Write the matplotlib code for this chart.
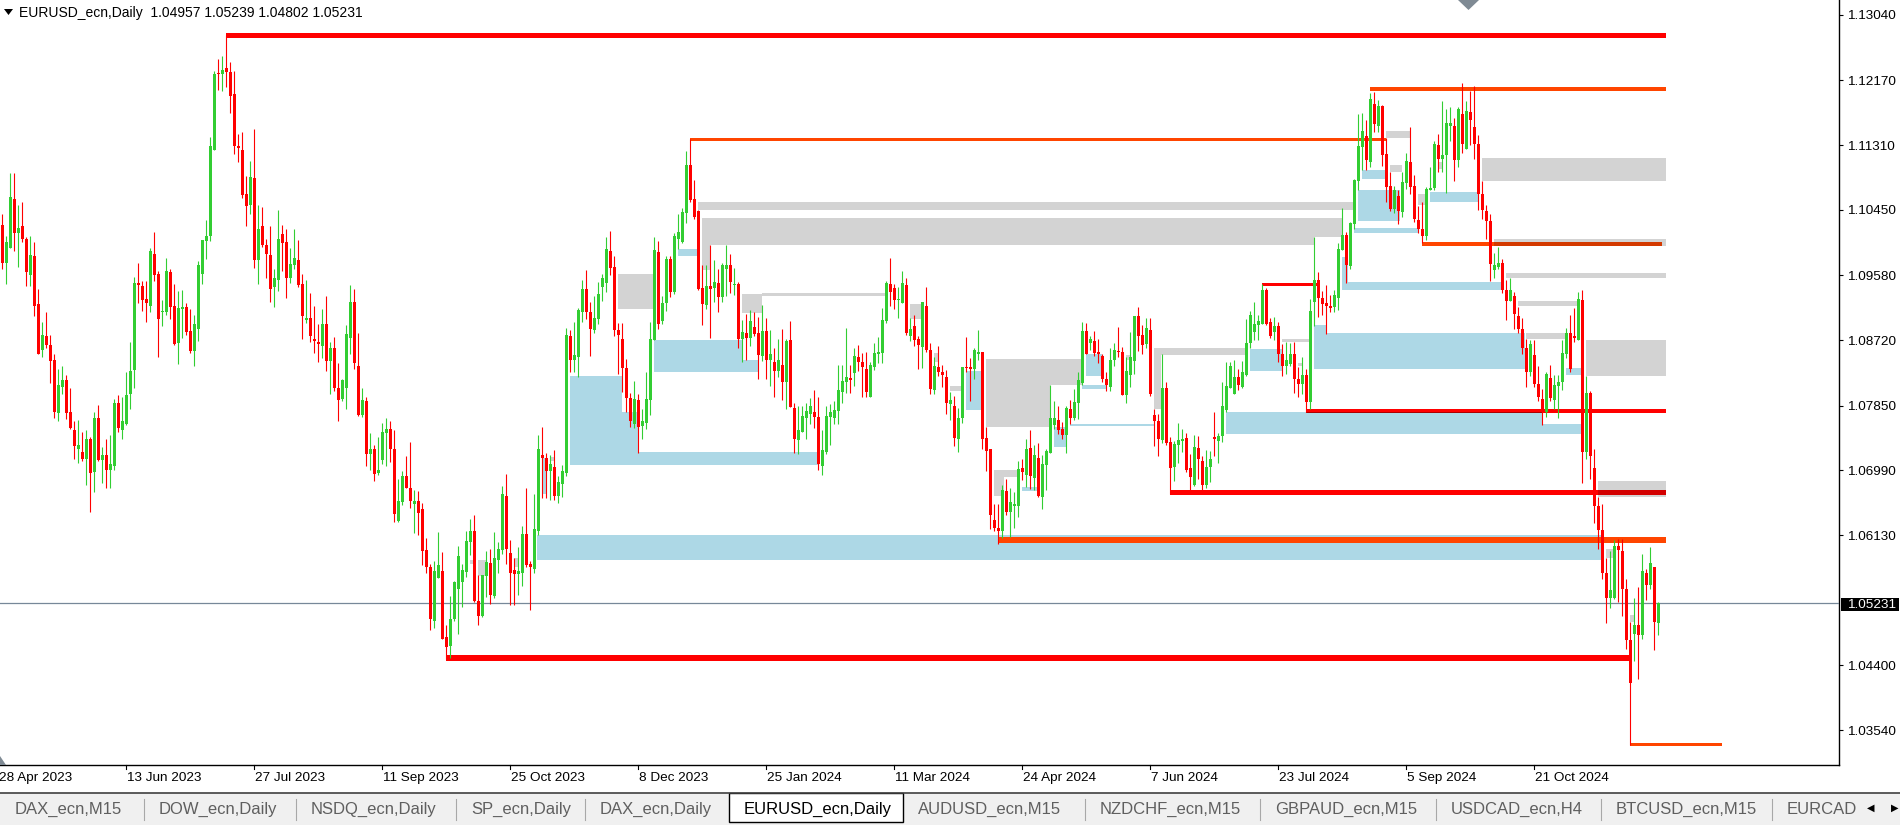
import numpy as np
import pandas as pd
import matplotlib
matplotlib.use("Agg")
import matplotlib.pyplot as plt
from matplotlib.patches import Rectangle, Polygon
from matplotlib import colors as mcolors

plt.rcParams['font.family'] = ['Liberation Sans', 'DejaVu Sans']

# ---- daily bars, 1 May 2023 .. 3 Dec 2024 ----
opens = [
    1.1025, 1.0975, 1.0994, 1.1059, 1.1014, 1.1023, 1.1006, 1.0959, 1.0984, 1.0920,
    1.0859, 1.0878, 1.0866, 1.0845, 1.0775, 1.0810, 1.0819, 1.0776, 1.0752, 1.0727,
    1.0723, 1.0714, 1.0741, 1.0697, 1.0769, 1.0713, 1.0719, 1.0700, 1.0705, 1.0789,
    1.0752, 1.0761, 1.0800, 1.0832, 1.0948, 1.0944, 1.0926, 1.0918, 1.0986, 1.0960,
    1.0909, 1.0909, 1.0962, 1.0917, 1.0868, 1.0914, 1.0916, 1.0884, 1.0858, 1.0887,
    1.0960, 1.1004, 1.1010, 1.1125, 1.1226, 1.1226, 1.1233, 1.1228, 1.1199, 1.1130,
    1.1125, 1.1066, 1.1051, 1.1087, 1.0979, 1.1023, 1.0999, 1.0985, 1.0942, 1.0952,
    1.1013, 1.1002, 1.0955, 1.0972, 1.0979, 1.0947, 1.0899, 1.0901, 1.0873, 1.0870,
    1.0864, 1.0894, 1.0844, 1.0862, 1.0809, 1.0794, 1.0809, 1.0875, 1.0922, 1.0837,
    1.0773, 1.0791, 1.0721, 1.0727, 1.0695, 1.0713, 1.0749, 1.0754, 1.0728, 1.0632,
    1.0657, 1.0691, 1.0676, 1.0654, 1.0658, 1.0647, 1.0593, 1.0571, 1.0499, 1.0556,
    1.0565, 1.0478, 1.0466, 1.0502, 1.0542, 1.0550, 1.0564, 1.0604, 1.0618, 1.0526,
    1.0506, 1.0558, 1.0576, 1.0532, 1.0580, 1.0593, 1.0665, 1.0589, 1.0566, 1.0561,
    1.0563, 1.0614, 1.0574, 1.0568, 1.0618, 1.0720, 1.0715, 1.0698, 1.0703, 1.0665,
    1.0681, 1.0696, 1.0878, 1.0846, 1.0849, 1.0909, 1.0940, 1.0909, 1.0885, 1.0900,
    1.0943, 1.0948, 1.0990, 1.0969, 1.0885, 1.0874, 1.0835, 1.0795, 1.0761, 1.0792,
    1.0758, 1.0762, 1.0793, 1.0872, 1.0989, 1.0897, 1.0921, 1.0980, 1.0936, 1.1007,
    1.1002, 1.1041, 1.1105, 1.1060, 1.1044, 1.0941, 1.0919, 1.0944, 1.0941, 1.0948,
    1.0929, 1.0966, 1.0972, 1.0945, 1.0947, 1.0873, 1.0882, 1.0875, 1.0889, 1.0882,
    1.0851, 1.0884, 1.0845, 1.0843, 1.0831, 1.0839, 1.0817, 1.0872, 1.0782, 1.0739,
    1.0750, 1.0769, 1.0774, 1.0777, 1.0770, 1.0705, 1.0724, 1.0770, 1.0769, 1.0778,
    1.0803, 1.0817, 1.0822, 1.0828, 1.0849, 1.0843, 1.0834, 1.0796, 1.0836, 1.0853,
    1.0855, 1.0897, 1.0947, 1.0941, 1.0925, 1.0921, 1.0945, 1.0878, 1.0891, 1.0873,
    1.0863, 1.0918, 1.0859, 1.0806, 1.0836, 1.0830, 1.0823, 1.0787, 1.0785, 1.0741,
    1.0768, 1.0836, 1.0836, 1.0834, 1.0853, 1.0856, 1.0742, 1.0727, 1.0633, 1.0623,
    1.0618, 1.0672, 1.0643, 1.0651, 1.0651, 1.0702, 1.0693, 1.0729, 1.0689, 1.0716,
    1.0664, 1.0706, 1.0722, 1.0759, 1.0766, 1.0754, 1.0746, 1.0781, 1.0768, 1.0789,
    1.0815, 1.0884, 1.0868, 1.0871, 1.0856, 1.0851, 1.0821, 1.0810, 1.0846, 1.0858,
    1.0856, 1.0799, 1.0826, 1.0844, 1.0904, 1.0879, 1.0867, 1.0885, 1.0772, 1.0765,
    1.0739, 1.0808, 1.0737, 1.0703, 1.0733, 1.0738, 1.0742, 1.0702, 1.0680, 1.0729,
    1.0711, 1.0679, 1.0703, 1.0743, 1.0738, 1.0744, 1.0779, 1.0808, 1.0801, 1.0823,
    1.0810, 1.0826, 1.0868, 1.0883, 1.0892, 1.0893, 1.0938, 1.0896, 1.0883, 1.0891,
    1.0854, 1.0838, 1.0840, 1.0853, 1.0820, 1.0814, 1.0826, 1.0790, 1.0923, 1.0952,
    1.0928, 1.0921, 1.0918, 1.0916, 1.0928, 1.0992, 1.1012, 1.0971, 1.1026, 1.1084,
    1.1129, 1.1143, 1.1109, 1.1186, 1.1157, 1.1183, 1.1119, 1.1077, 1.1046, 1.1063,
    1.1042, 1.1081, 1.1109, 1.1077, 1.1032, 1.1020, 1.1010, 1.1072, 1.1074, 1.1131,
    1.1112, 1.1118, 1.1156, 1.1157, 1.1111, 1.1172, 1.1126, 1.1175, 1.1155, 1.1133,
    1.1066, 1.1044, 1.1030, 1.0965, 1.0969, 1.0974, 1.0938, 1.0924, 1.0931, 1.0904,
    1.0887, 1.0861, 1.0829, 1.0852, 1.0814, 1.0794, 1.0776, 1.0822, 1.0792, 1.0811,
    1.0817, 1.0854, 1.0882, 1.0878, 1.0872, 1.0925, 1.0723, 1.0802, 1.0702, 1.0651,
    1.0620, 1.0562, 1.0530, 1.0530, 1.0598, 1.0592, 1.0541, 1.0473, 1.0481, 1.0493,
    1.0480, 1.0562, 1.0547, 1.0571, 1.04957,
]
highs = [
    1.1039, 1.1011, 1.1094, 1.1094, 1.1051, 1.1056, 1.1009, 1.1010, 1.1002, 1.0940,
    1.0896, 1.0909, 1.0879, 1.0854, 1.0834, 1.0837, 1.0826, 1.0808, 1.0764, 1.0766,
    1.0750, 1.0753, 1.0743, 1.0776, 1.0786, 1.0730, 1.0740, 1.0746, 1.0794, 1.0799,
    1.0796, 1.0830, 1.0870, 1.0956, 1.0975, 1.0951, 1.0951, 1.0994, 1.1015, 1.0964,
    1.0925, 1.0981, 1.0967, 1.0946, 1.0937, 1.0938, 1.0921, 1.0913, 1.0905, 1.0977,
    1.1005, 1.1031, 1.1142, 1.1229, 1.1245, 1.1250, 1.1277, 1.1241, 1.1230, 1.1146,
    1.1149, 1.1090, 1.1110, 1.1152, 1.1051, 1.1049, 1.1006, 1.1023, 1.0967, 1.1045,
    1.1025, 1.1020, 1.0995, 1.1020, 1.1005, 1.0960, 1.0952, 1.0934, 1.0918, 1.0893,
    1.0913, 1.0930, 1.0870, 1.0876, 1.0842, 1.0821, 1.0892, 1.0945, 1.0940, 1.0881,
    1.0808, 1.0797, 1.0749, 1.0733, 1.0743, 1.0762, 1.0768, 1.0764, 1.0752, 1.0687,
    1.0698, 1.0718, 1.0736, 1.0673, 1.0671, 1.0656, 1.0609, 1.0575, 1.0578, 1.0617,
    1.0591, 1.0493, 1.0532, 1.0552, 1.0599, 1.0575, 1.0619, 1.0634, 1.0639, 1.0560,
    1.0560, 1.0592, 1.0594, 1.0617, 1.0604, 1.0678, 1.0694, 1.0606, 1.0582, 1.0597,
    1.0625, 1.0676, 1.0579, 1.0667, 1.0746, 1.0756, 1.0722, 1.0720, 1.0726, 1.0692,
    1.0706, 1.0888, 1.0886, 1.0896, 1.0915, 1.0952, 1.0965, 1.0922, 1.0930, 1.0949,
    1.0960, 1.1009, 1.1017, 1.0984, 1.0895, 1.0895, 1.0847, 1.0802, 1.0818, 1.0801,
    1.0780, 1.0829, 1.0896, 1.1009, 1.1004, 1.0931, 1.0984, 1.0984, 1.1014, 1.1040,
    1.1047, 1.1123, 1.1139, 1.1085, 1.1045, 1.0972, 1.0972, 1.0998, 1.0978, 1.0966,
    1.0975, 1.0998, 1.0986, 1.0968, 1.0949, 1.0899, 1.0907, 1.0912, 1.0910, 1.0903,
    1.0919, 1.0901, 1.0886, 1.0862, 1.0874, 1.0887, 1.0874, 1.0897, 1.0789, 1.0785,
    1.0785, 1.0789, 1.0795, 1.0806, 1.0796, 1.0752, 1.0785, 1.0787, 1.0791, 1.0839,
    1.0839, 1.0888, 1.0839, 1.0861, 1.0866, 1.0855, 1.0856, 1.0843, 1.0868, 1.0876,
    1.0915, 1.0950, 1.0981, 1.0947, 1.0943, 1.0964, 1.0955, 1.0901, 1.0905, 1.0877,
    1.0923, 1.0943, 1.0868, 1.0849, 1.0864, 1.0839, 1.0832, 1.0803, 1.0798, 1.0782,
    1.0836, 1.0876, 1.0848, 1.0862, 1.0885, 1.0856, 1.0757, 1.0728, 1.0654, 1.0654,
    1.0679, 1.0688, 1.0676, 1.0670, 1.0711, 1.0714, 1.0740, 1.0752, 1.0732, 1.0735,
    1.0720, 1.0728, 1.0812, 1.0791, 1.0785, 1.0763, 1.0785, 1.0793, 1.0807, 1.0829,
    1.0896, 1.0895, 1.0878, 1.0884, 1.0874, 1.0854, 1.0830, 1.0862, 1.0868, 1.0889,
    1.0863, 1.0849, 1.0883, 1.0904, 1.0916, 1.0892, 1.0902, 1.0902, 1.0781, 1.0774,
    1.0853, 1.0816, 1.0743, 1.0738, 1.0762, 1.0754, 1.0749, 1.0721, 1.0746, 1.0744,
    1.0718, 1.0726, 1.0725, 1.0777, 1.0748, 1.0816, 1.0843, 1.0843, 1.0845, 1.0833,
    1.0844, 1.0900, 1.0911, 1.0923, 1.0905, 1.0947, 1.0941, 1.0902, 1.0903, 1.0896,
    1.0867, 1.0869, 1.0868, 1.0869, 1.0836, 1.0850, 1.0834, 1.0927, 1.1009, 1.0962,
    1.0937, 1.0945, 1.0932, 1.0939, 1.1001, 1.1047, 1.1016, 1.1029, 1.1086, 1.1173,
    1.1174, 1.1164, 1.1200, 1.1202, 1.1191, 1.1185, 1.1140, 1.1095, 1.1077, 1.1072,
    1.1096, 1.1120, 1.1155, 1.1091, 1.1050, 1.1055, 1.1076, 1.1102, 1.1137, 1.1146,
    1.1190, 1.1179, 1.1182, 1.1167, 1.1182, 1.1213, 1.1190, 1.1203, 1.1209, 1.1144,
    1.1083, 1.1051, 1.1039, 1.0988, 1.0996, 1.0980, 1.0952, 1.0954, 1.0936, 1.0916,
    1.0902, 1.0874, 1.0872, 1.0872, 1.0838, 1.0807, 1.0830, 1.0839, 1.0826, 1.0826,
    1.0872, 1.0888, 1.0905, 1.0915, 1.0936, 1.0938, 1.0824, 1.0805, 1.0727, 1.0664,
    1.0654, 1.0583, 1.0592, 1.0607, 1.0608, 1.0608, 1.0554, 1.0498, 1.0529, 1.0544,
    1.0588, 1.0568, 1.0597, 1.0571, 1.05239,
]
lows = [
    1.0967, 1.0946, 1.0994, 1.0990, 1.0969, 1.1002, 1.0944, 1.0944, 1.0904, 1.0853,
    1.0850, 1.0861, 1.0815, 1.0768, 1.0765, 1.0801, 1.0767, 1.0754, 1.0714, 1.0709,
    1.0712, 1.0680, 1.0644, 1.0670, 1.0712, 1.0682, 1.0675, 1.0675, 1.0700, 1.0750,
    1.0740, 1.0759, 1.0780, 1.0808, 1.0921, 1.0911, 1.0896, 1.0909, 1.0951, 1.0849,
    1.0891, 1.0905, 1.0900, 1.0865, 1.0840, 1.0875, 1.0879, 1.0855, 1.0838, 1.0871,
    1.0947, 1.0980, 1.1004, 1.1125, 1.1204, 1.1203, 1.1208, 1.1174, 1.1119, 1.1109,
    1.1061, 1.1023, 1.1040, 1.0968, 1.0947, 1.0996, 1.0955, 1.0923, 1.0916, 1.0937,
    1.0964, 1.0928, 1.0948, 1.0967, 1.0942, 1.0874, 1.0895, 1.0870, 1.0855, 1.0843,
    1.0848, 1.0831, 1.0800, 1.0805, 1.0765, 1.0791, 1.0781, 1.0854, 1.0834, 1.0771,
    1.0770, 1.0705, 1.0700, 1.0685, 1.0693, 1.0707, 1.0705, 1.0710, 1.0630, 1.0630,
    1.0653, 1.0675, 1.0649, 1.0616, 1.0613, 1.0573, 1.0562, 1.0487, 1.0490, 1.0556,
    1.0475, 1.0448, 1.0450, 1.0499, 1.0481, 1.0517, 1.0557, 1.0587, 1.0524, 1.0493,
    1.0504, 1.0531, 1.0522, 1.0529, 1.0563, 1.0588, 1.0575, 1.0520, 1.0520, 1.0533,
    1.0545, 1.0570, 1.0514, 1.0563, 1.0613, 1.0662, 1.0662, 1.0659, 1.0659, 1.0655,
    1.0664, 1.0692, 1.0830, 1.0829, 1.0823, 1.0896, 1.0900, 1.0851, 1.0881, 1.0893,
    1.0924, 1.0936, 1.0958, 1.0878, 1.0827, 1.0803, 1.0777, 1.0757, 1.0755, 1.0722,
    1.0741, 1.0754, 1.0772, 1.0872, 1.0887, 1.0893, 1.0911, 1.0929, 1.0933, 1.0993,
    1.1001, 1.1028, 1.1055, 1.1033, 1.0938, 1.0892, 1.0914, 1.0875, 1.0922, 1.0909,
    1.0922, 1.0930, 1.0935, 1.0932, 1.0861, 1.0843, 1.0846, 1.0864, 1.0877, 1.0821,
    1.0844, 1.0821, 1.0811, 1.0796, 1.0823, 1.0792, 1.0780, 1.0783, 1.0722, 1.0721,
    1.0750, 1.0741, 1.0761, 1.0755, 1.0700, 1.0693, 1.0721, 1.0732, 1.0761, 1.0761,
    1.0788, 1.0802, 1.0802, 1.0811, 1.0831, 1.0796, 1.0796, 1.0796, 1.0832, 1.0841,
    1.0841, 1.0895, 1.0917, 1.0913, 1.0902, 1.0921, 1.0879, 1.0871, 1.0864, 1.0834,
    1.0835, 1.0856, 1.0801, 1.0801, 1.0824, 1.0810, 1.0774, 1.0766, 1.0731, 1.0724,
    1.0762, 1.0830, 1.0791, 1.0820, 1.0845, 1.0727, 1.0698, 1.0621, 1.0618, 1.0601,
    1.0609, 1.0640, 1.0610, 1.0623, 1.0637, 1.0686, 1.0677, 1.0674, 1.0673, 1.0663,
    1.0648, 1.0673, 1.0722, 1.0754, 1.0747, 1.0740, 1.0722, 1.0761, 1.0766, 1.0767,
    1.0812, 1.0854, 1.0859, 1.0851, 1.0841, 1.0817, 1.0804, 1.0805, 1.0837, 1.0850,
    1.0799, 1.0788, 1.0810, 1.0827, 1.0857, 1.0854, 1.0861, 1.0798, 1.0731, 1.0718,
    1.0735, 1.0732, 1.0668, 1.0685, 1.0709, 1.0723, 1.0697, 1.0670, 1.0678, 1.0688,
    1.0671, 1.0676, 1.0684, 1.0718, 1.0709, 1.0736, 1.0777, 1.0808, 1.0801, 1.0806,
    1.0809, 1.0825, 1.0861, 1.0872, 1.0872, 1.0893, 1.0892, 1.0875, 1.0872, 1.0843,
    1.0824, 1.0827, 1.0838, 1.0802, 1.0797, 1.0801, 1.0776, 1.0781, 1.0891, 1.0903,
    1.0905, 1.0880, 1.0909, 1.0909, 1.0912, 1.0992, 1.0948, 1.0967, 1.1020, 1.1071,
    1.1098, 1.1098, 1.1102, 1.1149, 1.1149, 1.1103, 1.1055, 1.1043, 1.1041, 1.1026,
    1.1035, 1.1073, 1.1066, 1.1029, 1.1014, 1.1001, 1.1005, 1.1072, 1.1071, 1.1096,
    1.1096, 1.1068, 1.1136, 1.1083, 1.1102, 1.1121, 1.1126, 1.1131, 1.1113, 1.1045,
    1.1033, 1.1007, 1.0951, 1.0954, 1.0966, 1.0935, 1.0899, 1.0924, 1.0887, 1.0881,
    1.0853, 1.0810, 1.0824, 1.0810, 1.0791, 1.0759, 1.0770, 1.0791, 1.0781, 1.0768,
    1.0806, 1.0848, 1.0830, 1.0869, 1.0872, 1.0682, 1.0714, 1.0687, 1.0629, 1.0594,
    1.0555, 1.0496, 1.0516, 1.0528, 1.0524, 1.0506, 1.0461, 1.0334, 1.0446, 1.0422,
    1.0475, 1.0527, 1.0541, 1.0460, 1.04802,
]
closes = [
    1.0975, 1.1003, 1.1062, 1.1014, 1.1021, 1.1006, 1.0963, 1.0985, 1.0918, 1.0854,
    1.0879, 1.0866, 1.0844, 1.0776, 1.0812, 1.0819, 1.0775, 1.0755, 1.0731, 1.0733,
    1.0714, 1.0741, 1.0696, 1.0769, 1.0713, 1.0720, 1.0700, 1.0707, 1.0789, 1.0755,
    1.0764, 1.0799, 1.0831, 1.0948, 1.0945, 1.0925, 1.0921, 1.0990, 1.0959, 1.0900,
    1.0910, 1.0964, 1.0916, 1.0867, 1.0915, 1.0916, 1.0883, 1.0858, 1.0893, 1.0972,
    1.1005, 1.1011, 1.1130, 1.1226, 1.1225, 1.1231, 1.1228, 1.1197, 1.1130, 1.1127,
    1.1065, 1.1050, 1.1089, 1.0979, 1.1019, 1.0999, 1.0987, 1.0940, 1.0954, 1.1007,
    1.1001, 1.0955, 1.0973, 1.0981, 1.0945, 1.0904, 1.0902, 1.0877, 1.0871, 1.0867,
    1.0894, 1.0844, 1.0862, 1.0809, 1.0793, 1.0819, 1.0880, 1.0922, 1.0842, 1.0773,
    1.0793, 1.0721, 1.0727, 1.0694, 1.0699, 1.0750, 1.0754, 1.0727, 1.0641, 1.0658,
    1.0691, 1.0676, 1.0658, 1.0658, 1.0642, 1.0592, 1.0571, 1.0501, 1.0565, 1.0573,
    1.0475, 1.0464, 1.0502, 1.0550, 1.0585, 1.0566, 1.0605, 1.0619, 1.0526, 1.0506,
    1.0560, 1.0577, 1.0534, 1.0582, 1.0594, 1.0668, 1.0594, 1.0563, 1.0561, 1.0565,
    1.0614, 1.0573, 1.0570, 1.0621, 1.0727, 1.0715, 1.0698, 1.0708, 1.0665, 1.0684,
    1.0698, 1.0879, 1.0846, 1.0852, 1.0912, 1.0940, 1.0909, 1.0887, 1.0901, 1.0933,
    1.0954, 1.0993, 1.0968, 1.0885, 1.0879, 1.0835, 1.0795, 1.0764, 1.0794, 1.0757,
    1.0765, 1.0794, 1.0873, 1.0992, 1.0893, 1.0921, 1.0980, 1.0936, 1.1010, 1.1015,
    1.1042, 1.1105, 1.1058, 1.1036, 1.0940, 1.0920, 1.0944, 1.0940, 1.0949, 1.0929,
    1.0972, 1.0972, 1.0949, 1.0947, 1.0874, 1.0883, 1.0875, 1.0897, 1.0880, 1.0852,
    1.0884, 1.0845, 1.0854, 1.0831, 1.0846, 1.0817, 1.0871, 1.0783, 1.0741, 1.0753,
    1.0771, 1.0778, 1.0784, 1.0770, 1.0708, 1.0726, 1.0771, 1.0776, 1.0779, 1.0806,
    1.0818, 1.0823, 1.0819, 1.0851, 1.0843, 1.0836, 1.0803, 1.0839, 1.0855, 1.0856,
    1.0899, 1.0948, 1.0936, 1.0925, 1.0927, 1.0948, 1.0882, 1.0887, 1.0872, 1.0865,
    1.0922, 1.0859, 1.0807, 1.0838, 1.0830, 1.0826, 1.0788, 1.0792, 1.0742, 1.0769,
    1.0836, 1.0835, 1.0834, 1.0859, 1.0856, 1.0741, 1.0725, 1.0640, 1.0623, 1.0618,
    1.0673, 1.0643, 1.0657, 1.0654, 1.0701, 1.0697, 1.0728, 1.0692, 1.0720, 1.0665,
    1.0708, 1.0725, 1.0769, 1.0768, 1.0753, 1.0746, 1.0782, 1.0769, 1.0790, 1.0819,
    1.0884, 1.0854, 1.0873, 1.0855, 1.0853, 1.0821, 1.0813, 1.0846, 1.0859, 1.0856,
    1.0799, 1.0831, 1.0850, 1.0904, 1.0877, 1.0866, 1.0888, 1.0800, 1.0764, 1.0740,
    1.0808, 1.0735, 1.0702, 1.0734, 1.0739, 1.0741, 1.0700, 1.0690, 1.0730, 1.0714,
    1.0680, 1.0704, 1.0714, 1.0740, 1.0744, 1.0784, 1.0811, 1.0837, 1.0823, 1.0813,
    1.0829, 1.0868, 1.0905, 1.0893, 1.0898, 1.0939, 1.0894, 1.0877, 1.0891, 1.0853,
    1.0838, 1.0846, 1.0854, 1.0820, 1.0814, 1.0826, 1.0790, 1.0911, 1.0952, 1.0928,
    1.0920, 1.0917, 1.0915, 1.0932, 1.0993, 1.1012, 1.0972, 1.1028, 1.1085, 1.1130,
    1.1150, 1.1111, 1.1192, 1.1159, 1.1183, 1.1118, 1.1076, 1.1046, 1.1071, 1.1043,
    1.1082, 1.1110, 1.1076, 1.1033, 1.1019, 1.1011, 1.1073, 1.1074, 1.1133, 1.1113,
    1.1118, 1.1161, 1.1161, 1.1111, 1.1179, 1.1133, 1.1176, 1.1164, 1.1133, 1.1066,
    1.1045, 1.1030, 1.0973, 1.0972, 1.0974, 1.0938, 1.0924, 1.0938, 1.0907, 1.0887,
    1.0861, 1.0830, 1.0867, 1.0814, 1.0797, 1.0781, 1.0827, 1.0795, 1.0812, 1.0817,
    1.0855, 1.0882, 1.0834, 1.0875, 1.0927, 1.0724, 1.0802, 1.0718, 1.0651, 1.0620,
    1.0562, 1.0530, 1.0540, 1.0598, 1.0593, 1.0541, 1.0473, 1.0417, 1.0493, 1.0480,
    1.0565, 1.0547, 1.0576, 1.0497, 1.05231,
]

# supply / demand zones: bar range, price range, kind (g = grey, b = blue)
zone_k0 = [116.9, 118.9, 127.9, 133.7, 134.9, 136.9, 141.9, 154.9, 141.9, 153.9,
           162.9, 184.9, 184.9, 189.9, 168.9, 173.9, 174.9, 174.9, 174.9, 226.9,
           232.9, 236.9, 240.9, 245.9, 261.9, 262.9, 266.9, 269.9, 270.9, 247.9,
           247.9, 254.9, 287.9, 287.9, 280.9, 311.9, 319.9, 323.9, 305.9, 384.9,
           327.9, 330.9, 380.9, 390.9, 395.9, 334.9, 334.9, 337.9, 338.9, 339.9,
           345.9, 346.9, 353.9, 356.9, 358.9, 369.9, 372.9, 375.9, 378.9, 398.9,
           400.9, 406.9]
zone_k1 = [117.7, 120.9, 128.9, 399.7, 135.9, 138.2, 154.9, 158.9, 203.9, 162.7,
           184.9, 188.9, 189.9, 220.7, 173.7, 337.7, 334.9, 327.9, 176.9, 229.7,
           233.9, 239.9, 244.7, 261.9, 269.9, 266.2, 287.9, 276.2, 274.9, 253.7,
           250.4, 258.7, 310.7, 289.7, 281.9, 319.9, 326.9, 325.2, 384.9, 394.9,
           330.9, 380.7, 390.9, 394.9, 415.9, 336.4, 374.7, 353.9, 349.4, 345.7,
           351.9, 349.9, 355.7, 368.9, 359.9, 415.9, 415.9, 415.9, 393.7, 415.9,
           402.9, 407.9]
zone_lo = [1.0574, 1.0559, 1.0570, 1.0580, 1.0668, 1.0712, 1.0706, 1.0706, 1.0706, 1.0913,
           1.0829, 1.0829, 1.0908, 1.0931, 1.0984, 1.1045, 1.1009, 1.0998, 1.0965, 1.0900,
           1.0843, 1.0805, 1.0779, 1.0757, 1.0812, 1.0730, 1.0758, 1.0807, 1.0825, 1.0690,
           1.0665, 1.0671, 1.0852, 1.0781, 1.0845, 1.0831, 1.0869, 1.0837, 1.0747, 1.0747,
           1.0834, 1.0834, 1.0873, 1.0826, 1.0824, 1.0939, 1.0939, 1.1014, 1.1030, 1.1086,
           1.1141, 1.1096, 1.1051, 1.1056, 1.1100, 1.1083, 1.0997, 1.0955, 1.0917, 1.0664,
           1.0583, 1.0498]
zone_hi = [1.0580, 1.0580, 1.0582, 1.0613, 1.0715, 1.0717, 1.0824, 1.0777, 1.0724, 1.0960,
           1.0872, 1.0845, 1.0933, 1.0934, 1.0993, 1.1055, 1.1034, 1.1009, 1.0998, 1.0920,
           1.0855, 1.0811, 1.0831, 1.0847, 1.0847, 1.0757, 1.0761, 1.0812, 1.0854, 1.0699,
           1.0699, 1.0677, 1.0861, 1.0852, 1.0852, 1.0860, 1.0873, 1.0841, 1.0776, 1.0761,
           1.0892, 1.0881, 1.0881, 1.0835, 1.0872, 1.0983, 1.0949, 1.1021, 1.1071, 1.1098,
           1.1150, 1.1105, 1.1066, 1.1069, 1.1109, 1.1114, 1.1007, 1.0961, 1.0924, 1.0685,
           1.0595, 1.0507]
zone_kind = ['g', 'g', 'g', 'b', 'b', 'g', 'b', 'b', 'b', 'g',
             'b', 'b', 'g', 'g', 'b', 'g', 'g', 'g', 'g', 'g',
             'g', 'g', 'b', 'g', 'g', 'b', 'b', 'b', 'b', 'g',
             'g', 'b', 'g', 'g', 'g', 'b', 'g', 'g', 'b', 'b',
             'b', 'b', 'g', 'b', 'g', 'b', 'b', 'b', 'b', 'b',
             'g', 'g', 'g', 'b', 'g', 'g', 'g', 'g', 'g', 'g',
             'g', 'g']

# horizontal levels: start bar, end bar, price, kind (r = red, o = orange)
level_k0 = [56, 341.9, 172, 354.9, 315, 326, 292, 249, 111, 407]
level_k1 = [415.9, 415.9, 345.9, 414.9, 328.7, 415.9, 415.9, 415.9, 407, 429.9]
level_price = [1.1277, 1.1205, 1.1138, 1.1000, 1.0946, 1.0778, 1.0669, 1.0607, 1.0449, 1.0335]
level_kind = ['r', 'o', 'o', 'o', 'r', 'r', 'r', 'o', 'r', 'o']
# line width in pixels, and whether a zone drawn later tints it
level_px = [5, 4, 3, 4, 3, 4, 5, 6, 6, 3]
level_tinted = [True, True, True, True, True, True, True, False, True, True]

last_price = 1.05231
price_ticks = [1.1304, 1.1217, 1.1131, 1.1045, 1.0958, 1.0872, 1.0785,
               1.0699, 1.0613, 1.0440, 1.0354]
tabs = ["DAX_ecn,M15", "DOW_ecn,Daily", "NSDQ_ecn,Daily", "SP_ecn,Daily", "DAX_ecn,Daily",
        "EURUSD_ecn,Daily", "AUDUSD_ecn,M15", "NZDCHF_ecn,M15", "GBPAUD_ecn,M15",
        "USDCAD_ecn,H4", "BTCUSD_ecn,M15", "EURCAD_ecn,M15"]
tab_edges = [0, 144, 296, 456, 585, 729, 903, 1085, 1260, 1436, 1601, 1772, 1900]
active_tab = 5

# bar dates (first entry = 28 Apr 2023, one bar left of the first drawn candle)
dates = pd.bdate_range('2023-04-28', periods=len(opens) + 1, freq='C',
                       holidays=['2023-12-25', '2024-01-01'])

GREEN, RED, ORANGE = '#32CD32', '#FF0000', '#FF4500'
ZONE_COL = {'g': '#D3D3D3', 'b': '#ADD8E6'}
LEVEL_COL = {'r': RED, 'o': ORANGE}

W, H = 1900, 825
fig = plt.figure(figsize=(W / 100, H / 100), dpi=100)
fig.patch.set_facecolor('white')


def fx(x):
    return x / W


def fy(y):
    return 1 - y / H


PR, PB = 1839, 765
ax = fig.add_axes([0, fy(PB), PR / W, PB / H])
ax.set_facecolor('white')
ax.set_xlim(-0.575, 459.175)
ax.set_ylim(1.03075, 1.13239)
ppx = (1.13239 - 1.03075) / PB

# zones
for k0, k1, lo, hi, kd in zip(zone_k0, zone_k1, zone_lo, zone_hi, zone_kind):
    ax.add_patch(Rectangle((k0, lo), k1 - k0, hi - lo, facecolor=ZONE_COL[kd],
                           lw=0, zorder=1, antialiased=False))


def mult(a, b):
    a, b = mcolors.to_rgb(a), mcolors.to_rgb(b)
    return tuple(u * v for u, v in zip(a, b))


# levels (darker where a zone sits on top of them)
for k0, k1, p, kd, w, tint in zip(level_k0, level_k1, level_price, level_kind,
                                  level_px, level_tinted):
    lo, hi = p - w * ppx / 2, p + w * ppx / 2
    ax.add_patch(Rectangle((k0, lo), k1 - k0, hi - lo, facecolor=LEVEL_COL[kd],
                           lw=0, zorder=2, antialiased=False))
    if not tint:
        continue
    for zk0, zk1, zlo, zhi, zk in zip(zone_k0, zone_k1, zone_lo, zone_hi, zone_kind):
        a0, a1 = max(k0, zk0), min(k1, zk1)
        b0, b1 = max(lo, zlo), min(hi, zhi)
        if a1 > a0 and b1 > b0:
            ax.add_patch(Rectangle((a0, b0), a1 - a0, b1 - b0,
                                   facecolor=mult(LEVEL_COL[kd], ZONE_COL[zk]),
                                   lw=0, zorder=2.5, antialiased=False))

ax.axhline(last_price, color='#778899', lw=0.9, zorder=3)

# candles
o, h, l, c = map(np.array, (opens, highs, lows, closes))
x = np.arange(len(o))
col = np.where(c >= o, GREEN, RED)
ax.vlines(x, l, h, colors=col, lw=0.8, zorder=4)
ax.bar(x, np.maximum(np.abs(c - o), ppx), bottom=np.minimum(o, c), width=0.78,
       color=col, lw=0, zorder=5)

# frame
for s in ('top', 'left'):
    ax.spines[s].set_visible(False)
for s in ('right', 'bottom'):
    ax.spines[s].set_linewidth(1.0)
    ax.spines[s].set_color('black')

ax.yaxis.tick_right()
ax.set_yticks(price_ticks)
ax.set_yticklabels([f'{v:.5f}' for v in price_ticks])
ax.tick_params(axis='y', direction='out', length=3, width=0.8, pad=3,
               labelsize=9.7, colors='black')
ax.set_xticks([])

# date ticks every 32 bars, label left-aligned at the tick
ybot = ax.get_ylim()[0]
for j in range(0, len(dates), 32):
    d = dates[j]
    xp, _ = ax.transData.transform((j - 1, ybot))
    fig.add_artist(plt.Line2D([fx(xp), fx(xp)], [fy(PB), fy(PB + 4)], color='black',
                              lw=0.8, transform=fig.transFigure))
    fig.text(fx(xp + 1), fy(778), f"{d.day} {d.strftime('%b %Y')}", fontsize=9.7,
             ha='left', va='center', color='black')

# current price tag
fig.add_artist(Rectangle((fx(1841), fy(611)), fx(58), 13 / H, facecolor='black',
                         lw=0, transform=fig.transFigure))
fig.text(fx(1847), fy(604.5), f'{last_price:.5f}', fontsize=9.7, color='white',
         ha='left', va='center')

# header
fig.add_artist(Polygon([(fx(4), fy(9)), (fx(13), fy(9)), (fx(8.5), fy(15))],
                       closed=True, facecolor='black', lw=0, transform=fig.transFigure))
fig.text(fx(19), fy(13), f"EURUSD_ecn,Daily  {opens[-1]:.5f} {highs[-1]:.5f} "
         f"{lows[-1]:.5f} {closes[-1]:.5f}", fontsize=10, ha='left', va='center')

# chart-shift marker at the top, scale marker bottom-left
fig.add_artist(Polygon([(fx(1458), fy(0)), (fx(1479), fy(0)), (fx(1468.5), fy(10))],
                       closed=True, facecolor='#7f8a94', lw=0, transform=fig.transFigure))
fig.add_artist(Polygon([(fx(0), fy(756)), (fx(0), fy(765)), (fx(6), fy(765))],
                       closed=True, facecolor='#7f8a94', lw=0, transform=fig.transFigure))

# tab bar
fig.add_artist(Rectangle((0, 0), 1, fy(793), facecolor='#F0F0F0', lw=0,
                         transform=fig.transFigure))
fig.add_artist(plt.Line2D([0, 1], [fy(793), fy(793)], color='#404040', lw=1.2,
                          transform=fig.transFigure))
renderer = fig.canvas.get_renderer()
ARROW_X = 1863
for i, name in enumerate(tabs):
    x0, x1 = tab_edges[i], tab_edges[i + 1]
    if i == active_tab:
        fig.add_artist(Rectangle((fx(x0), fy(822)), fx(x1 - x0), 29 / H, facecolor='white',
                                 edgecolor='black', lw=1.0, transform=fig.transFigure))
        tc = 'black'
    else:
        tc = '#5f5f5f'
        if i + 1 not in (active_tab, len(tabs)) and x1 < 1840:
            fig.add_artist(plt.Line2D([fx(x1), fx(x1)], [fy(799), fy(820)], color='#a8a8a8',
                                      lw=0.8, transform=fig.transFigure))
    t = fig.text(fx(x0 + 15), fy(809), name, fontsize=12, color=tc, ha='left', va='center')
    # the last tab is hidden behind the scroll arrows: show only what fits
    while t.get_window_extent(renderer).x1 > ARROW_X and len(t.get_text()) > 1:
        t.set_text(t.get_text()[:-1])

fig.text(fx(1871), fy(808), '\u25C0', fontsize=7, family=['DejaVu Sans'], ha='center',
         va='center')
fig.text(fx(1895), fy(808), '\u25B6', fontsize=7, family=['DejaVu Sans'], ha='center',
         va='center')

fig.savefig('out.png', dpi=100, facecolor='white')
